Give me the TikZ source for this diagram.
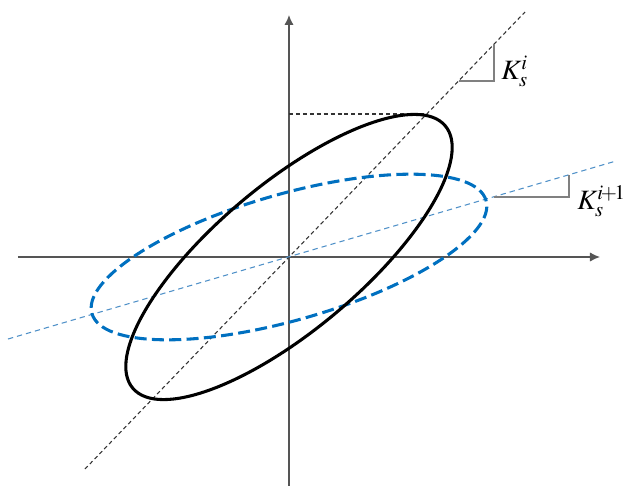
\documentclass[tikz,border=0pt]{standalone}
\usepackage{mathptmx}
\usepackage{fontspec}
\setmainfont{Liberation Serif}
\usetikzlibrary{arrows.meta}
\definecolor{loopblue}{RGB}{0,112,192}
\definecolor{lineblue}{RGB}{80,145,200}
\definecolor{axisgray}{RGB}{85,85,85}

\begin{document}
\begin{tikzpicture}[x=0.75pt,y=0.75pt,>={Latex[length=7.5pt,width=7pt]},
  axis/.style={axisgray,line width=1.1pt},
  secant/.style={black!80,line width=0.8pt,dash pattern=on 3pt off 2.2pt},
  secantblue/.style={lineblue,line width=0.8pt,dash pattern=on 4pt off 3pt},
  slope/.style={gray,line width=1.1pt},
  klabel/.style={anchor=west,inner sep=0pt,font=\fontsize{21}{25}\selectfont}]
  \useasboundingbox (-289,-229) rectangle (337,257);
  % axes
  \draw[->,axis] (-271,0) -- (311,0);
  \draw[->,axis] (0,-229) -- (0,242);
  % secant lines
  \draw[secant] (-204,-212) -- (236,245);
  \draw[secantblue] (-281,-82) -- (327,96);
  \draw[secant] (0,143) -- (135,143);
  % hysteresis loops
  \draw[loopblue,line width=2.3pt,dash pattern=on 9pt off 4pt,rotate=16] (0,0) ellipse (205 and 63);
  \draw[black,line width=2.3pt,rotate=40] (0,0) ellipse (204 and 73);
  % slope marks
  \draw[slope] (170,176) -- (205,176) -- (205,213);
  \draw[slope] (205,60) -- (280,60) -- (280,82);
  \node[klabel] (ki) at (212,186) {$K_s^{i}$};
  \node[klabel] (kinext) at (288,56) {$K_s^{i\!+\!1}$};
\end{tikzpicture}
\end{document}
